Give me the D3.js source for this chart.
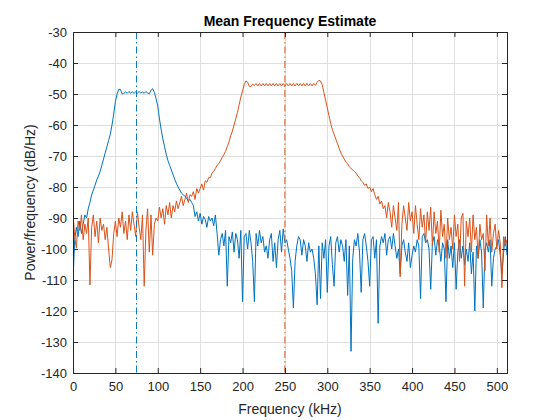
<!DOCTYPE html>
<html>
<head>
<meta charset="utf-8">
<script src="https://cdn.jsdelivr.net/npm/d3@7"></script>
<style>
  html, body { margin: 0; padding: 0; background: #ffffff; }
  svg { display: block; font-family: "Liberation Sans", Arial, Helvetica, sans-serif; }
</style>
</head>
<body>
<div id="chart"></div>
<script>
// Frequency grid (kHz), 2 kHz spacing from 0 to 512
const freqKHz = d3.range(0, 513, 2);

// Series 1 (blue) PSD in dB/Hz
const psdBlue = [
  -110,-97,-93,-96,-91,-95,-92,-89,-90,-87,
  -85,-82.5,-81,-79.5,-77.7,-76.5,-75,-73,-71,-69,
  -67,-65,-63,-60,-56.5,-52.5,-50,-48.5,-48.5,-50,
  -49.8,-49.3,-49.8,-49.2,-49.7,-49.3,-49.8,-49.3,-49.7,-49.2,
  -49.7,-49.3,-49.8,-49.2,-49.7,-49.9,-48.8,-48.3,-49.5,-51.5,
  -54,-58,-61.5,-64.5,-67,-69.5,-71.5,-73,-74.5,-76,
  -77.5,-78.8,-80,-81,-82,-82.5,-83,-83.5,-84.5,-84,
  -85,-86,-89.5,-88,-91,-88.5,-92,-89.5,-90.5,-93,
  -89.5,-91,-90,-92.5,-89,-95,-102,-97,-95,-99,
  -94,-112,-96,-98,-94.5,-101,-95,-97,-103,-94,
  -117,-96,-95,-100,-94,-98,-104,-117,-95,-99,
  -94,-98,-96,-101,-99,-103,-97,-95,-104,-98,
  -106,-97,-94,-101,-93.5,-98,-97,-100,-103,-107,
  -119,-104,-99,-96,-97,-102,-97,-99,-104,-98,
  -101,-100,-103,-108,-118,-99,-116,-98,-103,-97,
  -114,-99,-96,-105,-112,-98,-96,-101,-97,-99,
  -104,-97,-115,-99,-133,-103,-97,-99,-95,-101,
  -114,-97,-95,-99,-104,-112,-97,-96,-103,-97,
  -124,-99,-96,-98,-95,-102,-97,-96,-100,-95,
  -99,-103,-100,-108,-99,-97,-101,-104,-98,-106,
  -102,-99,-101,-97,-99,-116,-96,-95,-98,-97,
  -100,-113,-98,-96,-102,-97,-99,-104,-98,-100,
  -117,-97,-103,-99,-106,-98,-113,-101,-97,-103,
  -99,-105,-100,-104,-98,-108,-101,-120,-99,-103,
  -97,-101,-119,-100,-98,-101,-97,-112,-103,-100,
  -99,-97,-102,-108,-101,-96,-102
];

// Series 2 (orange) PSD in dB/Hz
const psdOrange = [
  -88.5,-96,-99.7,-91,-94,-89,-97,-92,-95,-90,
  -111.6,-93,-89,-96,-91,-98,-90,-94,-92,-97,
  -93,-100,-106,-103.5,-95,-91,-96,-90,-93,-88,
  -95,-91,-97,-89,-94,-88,-92,-96,-88,-93,
  -97,-89,-112,-94,-87,-101,-89,-102,-92,-90,
  -91,-86.5,-90,-87,-92,-86,-89,-85,-90,-86,
  -88,-84.5,-87,-85,-83,-86,-84,-82,-85,-82.5,
  -83,-81.5,-84,-80.5,-82,-80.5,-79,-81,-78,-78.5,
  -77,-77,-75.5,-75,-74,-73,-72.5,-71.5,-70.5,-69.5,
  -68.5,-67,-65.5,-63.5,-62,-60,-58,-56,-53.5,-51,
  -49,-47,-45.8,-46.2,-47.5,-47.6,-46.8,-47.3,-46.6,-47.4,
  -46.6,-47.4,-46.6,-47.4,-46.6,-47.4,-46.6,-47.4,-46.6,-47.4,
  -46.6,-47.4,-46.6,-47.4,-46.6,-47.4,-46.6,-47.4,-46.6,-47.4,
  -46.6,-47.4,-46.6,-47.4,-46.6,-47.4,-46.6,-47.4,-46.6,-47.4,
  -46.6,-47.4,-46.6,-47.2,-46.2,-45.6,-45.8,-47,-49.5,-52,
  -54.5,-57,-59.5,-61.5,-63,-64.5,-66,-67.5,-69,-70,
  -71,-72,-72.5,-73.5,-74,-74.5,-75,-75.5,-76.5,-77,
  -78,-78.5,-79.5,-79,-80.5,-80,-81.5,-80.5,-82.5,-84,
  -83,-85.5,-84.5,-87,-86,-90,-85,-88,-93,-86,
  -90,-94,-85,-109,-92,-86,-90,-94,-85,-91,
  -88,-95,-86,-92,-97,-87,-93,-89,-98,-88,
  -94,-86.5,-99,-88,-95,-91,-101,-87.5,-96,-92,
  -103,-90,-97,-93,-100,-89,-96,-92,-104,-90,
  -88.5,-112,-91,-96,-90,-101,-89,-97,-93,-103,
  -92,-97,-95,-107,-89,-99,-90,-101,-95,-92,
  -100,-94,-98,-112.5,-96,-99,-97
];

// Mean frequency estimates (kHz)
const meanFreqs = [75, 250];

const seriesColors = ["#0072BD", "#D95319"];
const xTicks = [0, 50, 100, 150, 200, 250, 300, 350, 400, 450, 500];
const yTicks = [-30, -40, -50, -60, -70, -80, -90, -100, -110, -120, -130, -140];

const W = 560, H = 420;
const margin = { left: 73, right: 53, top: 32, bottom: 47 };
const pw = W - margin.left - margin.right;
const ph = H - margin.top - margin.bottom;

const svg = d3.select("#chart").append("svg")
  .attr("width", W).attr("height", H);

svg.append("rect").attr("width", W).attr("height", H).attr("fill", "#ffffff");

const g = svg.append("g").attr("transform", `translate(${margin.left},${margin.top})`);

const x = d3.scaleLinear().domain([0, 512]).range([0, pw]);
const y = d3.scaleLinear().domain([-140, -30]).range([ph, 0]);

// Grid
g.append("g").selectAll("line").data(xTicks).join("line")
  .attr("x1", d => Math.round(x(d)) + 0.5).attr("x2", d => Math.round(x(d)) + 0.5)
  .attr("y1", 0).attr("y2", ph)
  .attr("stroke", "#dfdfdf").attr("stroke-width", 1);
g.append("g").selectAll("line").data(yTicks).join("line")
  .attr("y1", d => Math.round(y(d)) + 0.5).attr("y2", d => Math.round(y(d)) + 0.5)
  .attr("x1", 0).attr("x2", pw)
  .attr("stroke", "#dfdfdf").attr("stroke-width", 1);

// Data lines
svg.append("defs").append("clipPath").attr("id", "clip")
  .append("rect").attr("width", pw).attr("height", ph);

const line = d3.line().x((d, i) => x(freqKHz[i])).y(d => y(d));
const plotG = g.append("g").attr("clip-path", "url(#clip)");

[psdBlue, psdOrange].forEach((s, k) => {
  plotG.append("path").datum(s)
    .attr("d", line)
    .attr("fill", "none")
    .attr("stroke", seriesColors[k])
    .attr("stroke-width", 1)
    .attr("stroke-linejoin", "round");
});

// Mean frequency lines
meanFreqs.forEach((f, k) => {
  plotG.append("line")
    .attr("x1", x(f)).attr("x2", x(f))
    .attr("y1", 0).attr("y2", ph)
    .attr("stroke", seriesColors[k])
    .attr("stroke-width", 1)
    .attr("stroke-dasharray", "7,3,1.5,3");
});

// Axes
const tickLen = 5;
const axisColor = "#262626";
const fmt = d => String(d);
const xAxis = d3.axisBottom(x).tickValues(xTicks).tickFormat(fmt).tickSizeInner(-tickLen).tickSizeOuter(0).tickPadding(9);
const yAxis = d3.axisLeft(y).tickValues(yTicks).tickFormat(fmt).tickSizeInner(-tickLen).tickSizeOuter(0).tickPadding(6);
const xAxisTop = d3.axisTop(x).tickValues(xTicks).tickSizeInner(-tickLen).tickSizeOuter(0).tickFormat("");
const yAxisRight = d3.axisRight(y).tickValues(yTicks).tickSizeInner(-tickLen).tickSizeOuter(0).tickFormat("");

function styleAxis(sel) {
  sel.select(".domain").remove();
  sel.selectAll("line").attr("stroke", axisColor);
  sel.selectAll("text").attr("fill", axisColor).style("font-size", "13px")
    .style("font-family", "'Liberation Sans', Arial, Helvetica, sans-serif");
}

g.append("g").attr("transform", `translate(0,${ph})`).call(xAxis).call(styleAxis);
g.append("g").call(yAxis).call(styleAxis);
g.append("g").call(xAxisTop).call(styleAxis);
g.append("g").attr("transform", `translate(${pw},0)`).call(yAxisRight).call(styleAxis);

// Box
g.append("rect").attr("x", 0.5).attr("y", 0.5).attr("width", pw).attr("height", ph)
  .attr("fill", "none").attr("stroke", axisColor).attr("stroke-width", 1);

// Labels
svg.append("text")
  .attr("x", margin.left + pw / 2).attr("y", 26)
  .attr("text-anchor", "middle")
  .attr("fill", "#000000")
  .style("font-size", "14px").style("font-weight", "bold")
  .text("Mean Frequency Estimate");

svg.append("text")
  .attr("x", margin.left + pw / 2).attr("y", 414)
  .attr("text-anchor", "middle")
  .attr("fill", axisColor)
  .style("font-size", "14px")
  .text("Frequency (kHz)");

svg.append("text")
  .attr("transform", `translate(35,${margin.top + ph / 2}) rotate(-90)`)
  .attr("text-anchor", "middle")
  .attr("fill", axisColor)
  .style("font-size", "14px")
  .text("Power/frequency (dB/Hz)");
</script>
</body>
</html>
